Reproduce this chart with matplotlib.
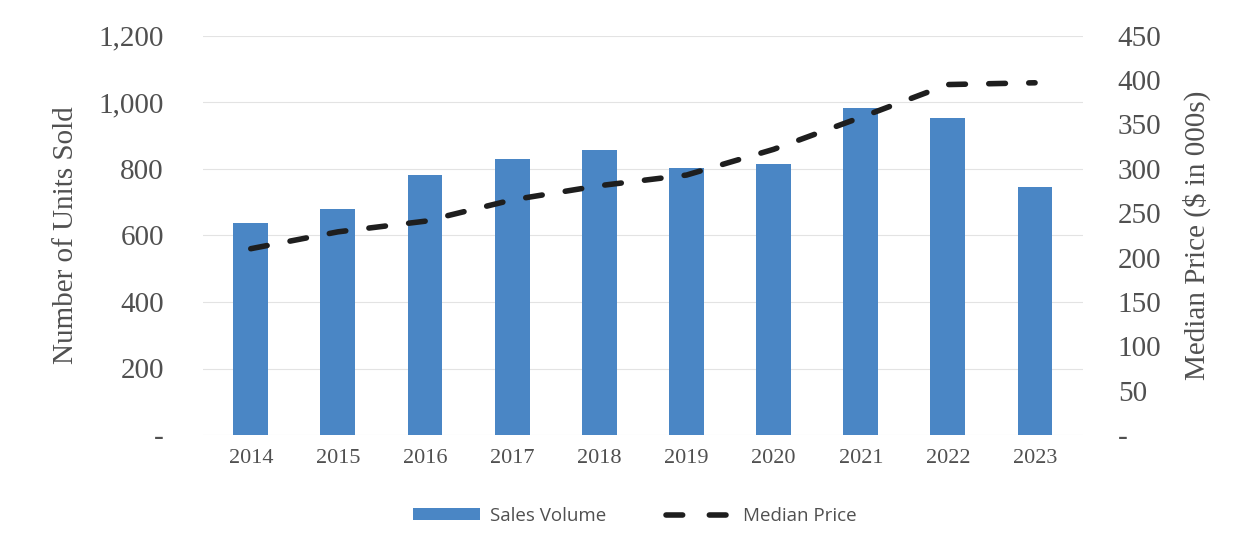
import matplotlib.pyplot as plt
from matplotlib.ticker import FuncFormatter
from matplotlib.lines import Line2D
from matplotlib.patches import Patch
import numpy as np

years = ['2014', '2015', '2016', '2017', '2018', '2019', '2020', '2021', '2022', '2023']
sales_volume = [638, 680, 781, 829, 857, 804, 816, 984, 954, 744]
median_price = [210, 229, 241, 265, 281, 293, 322, 358, 395, 397]

bar_color = '#4a86c5'
text_color = '#505050'


def dash_zero(v, pos):
    if v == 0:
        return '-'
    return '{:,.0f}'.format(v)


fig = plt.figure(figsize=(12.52, 5.5), dpi=100)
ax = fig.add_axes([0.162, 0.209, 0.703, 0.726])
ax2 = ax.twinx()

x = np.arange(len(years))
ax.bar(x, sales_volume, width=0.4, color=bar_color, zorder=2)
ax2.plot(x, median_price, color='#1e1e1e', lw=4, ls=(0, (3, 4.2)),
         dash_capstyle='round', zorder=3)

ax.set_xlim(-0.55, len(years) - 0.45)
ax.set_ylim(0, 1200)
ax.set_yticks(range(0, 1201, 200))
ax2.set_ylim(0, 450)
ax2.set_yticks(range(0, 451, 50))
ax.yaxis.set_major_formatter(FuncFormatter(dash_zero))
ax2.yaxis.set_major_formatter(FuncFormatter(dash_zero))

ax.set_xticks(x)
ax.set_xticklabels(years)
ax.grid(axis='y', color='#e3e3e3', lw=0.8, zorder=0)
ax.set_axisbelow(True)

for a in (ax, ax2):
    for s in a.spines.values():
        s.set_visible(False)
    a.tick_params(length=0, colors=text_color)
    for lab in a.get_yticklabels():
        lab.set_fontfamily('Liberation Serif')
        lab.set_fontsize(21)

for lab in ax.get_xticklabels():
    lab.set_fontfamily('Liberation Serif')
    lab.set_fontsize(16)
ax.tick_params(axis='x', pad=10)
ax.tick_params(axis='y', pad=28)
ax2.tick_params(axis='y', pad=25)

ax.set_ylabel('Number of Units Sold', fontfamily='Liberation Serif', fontsize=21,
              color=text_color, labelpad=14)
ax2.set_ylabel('Median Price ($ in 000s)', fontfamily='Liberation Serif', fontsize=21,
               color=text_color, labelpad=15)

handles = [Patch(facecolor=bar_color, label='Sales Volume'),
           Line2D([0], [0], color='#1e1e1e', lw=4, ls=(0, (3, 4.8)),
                  dash_capstyle='round', label='Median Price')]
fig.legend(handles=handles, loc='center', bbox_to_anchor=(0.507, 0.062), ncol=2,
           frameon=False, prop={'family': 'Open Sans', 'size': 13.5},
           labelcolor=text_color, handlelength=3.6, handleheight=0.6,
           columnspacing=3.2, handletextpad=0.5)

fig.savefig('out.png', dpi=100, facecolor='white')
